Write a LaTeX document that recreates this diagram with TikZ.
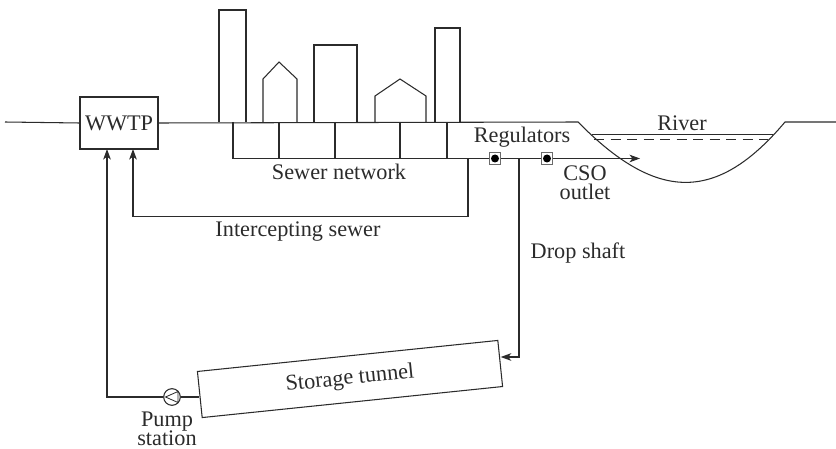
\documentclass[tikz,border=0pt]{standalone}
\usepackage{fontspec}
\setmainfont{Liberation Serif}
\usepackage{tikz}
\usetikzlibrary{arrows.meta, positioning, calc}
\definecolor{inkgray}{HTML}{2b2b2b}
\definecolor{valvegray}{HTML}{6a6a6a}

\tikzset{
	pipe/.style={draw=inkgray, line width=0.9pt},
	flow/.style={pipe, -{Stealth[length=9pt, width=6.5pt, inset=2.5pt]}},
	lbl/.style={font={\fontsize{19}{16.2}\selectfont\lineskiplimit-8pt\relax}, text=inkgray, inner sep=0pt},
	plantbox/.style={pipe, fill=white, inner sep=0pt, font=\fontsize{19}{15}\selectfont, text=inkgray},
	regvalve/.style={draw=valvegray, line width=1pt, fill=white, minimum size=3.5mm, inner sep=0pt}
}

\begin{document}
\begin{tikzpicture}[x=0.3mm, y=-0.3mm]
				\useasboundingbox (0,0) rectangle (836,449);

				% treatment plant on the ground line
				\node[plantbox, minimum width=23.4mm, minimum height=15.6mm] (wwtp) at (119,123) {WWTP};
				\draw[pipe] (5,122) -- (wwtp.west);
				\draw[pipe] (wwtp.east) -- (578,122) .. controls (655,200) and (715,205) .. (785,122) -- (836,122);

				% river surface
				\draw[pipe] (592,134.5) -- (773,134.5);
				\draw[pipe, dash pattern=on 3mm off 1.95mm] (594,139.3) -- (768,139.3);
				\node[lbl, anchor=base] (river) at (682,130.7) {River};

				% buildings
				\draw[pipe] (219,122) -- (219,10) -- (246,10) -- (246,122);
				\draw[pipe] (263,122) -- (263,79) -- (279,62) -- (297,79) -- (297,122);
				\draw[pipe] (314,122) -- (314,45) -- (357,45) -- (357,122);
				\draw[pipe] (375,122) -- (375,96) -- (400,79) -- (426,96) -- (426,122);
				\draw[pipe] (435,122) -- (435,28) -- (460,28) -- (460,122);

				% sewer network
				\draw[pipe] (233,122) -- (233,158.5) -- (447,158.5);
				\foreach \xs in {279,335,400,447}
					\draw[pipe] (\xs,122) -- (\xs,158.5);
				\node[lbl, anchor=base] (sewer) at (339,180) {Sewer network};

				% regulators and CSO outlet
				\coordinate (chamber) at (447,158.5);
				\coordinate (outlet) at (640,158.5);
				\draw[flow] (chamber) -- (outlet);
				\node[lbl, anchor=base] (reglabel) at (522,143) {Regulators};
				\foreach \xr/\nm in {495/rega,547/regb} {
					\node[regvalve] (\nm) at (\xr,158.5) {};
					\fill[black] (\nm.center) circle (1.2mm);
				}
				\node[lbl, align=center, anchor=south] (cso) at (585,199.5) {CSO\\outlet};

				% intercepting sewer back to the plant
				\coordinate (split) at (468,158.5);
				\coordinate (intakeB) at (133,149);
				\draw[flow] (split) |- (intakeB |- 0,216.5) -- (intakeB);
				\node[lbl, anchor=base] (intercept) at (298,236.7) {Intercepting sewer};

				% drop shaft into the storage tunnel
				\node[plantbox, rotate=5.9, minimum width=90.6mm, minimum height=13.9mm] (tunnel) at (350,379) {Storage tunnel};
				\coordinate (shaft) at (519,158.5);
				\coordinate (shaftfoot) at (519,357);
				\draw[flow] (shaft) -- (shaftfoot) -- (shaftfoot -| tunnel.east);
				\node[lbl, anchor=base] (drop) at (578,258) {Drop shaft};

				% pump station
				\node[draw=inkgray, line width=0.9pt, circle, minimum size=5mm, inner sep=0pt] (pump) at (172,397) {};
				\draw[pipe, line width=0.7pt] ($(pump.center)+(-6.5,0)$) -- ($(pump.center)+(6,-5.5)$) -- ($(pump.center)+(6,5.5)$) -- cycle;
				\draw[pipe] (pump.east) -- (pump.east -| tunnel.west);
				\coordinate (intakeA) at (107,149);
				\draw[flow] (pump.west) -| (intakeA);
				\node[lbl, align=center, anchor=south] (pumplbl) at (167,446) {Pump\\station};
			\end{tikzpicture}
\end{document}
